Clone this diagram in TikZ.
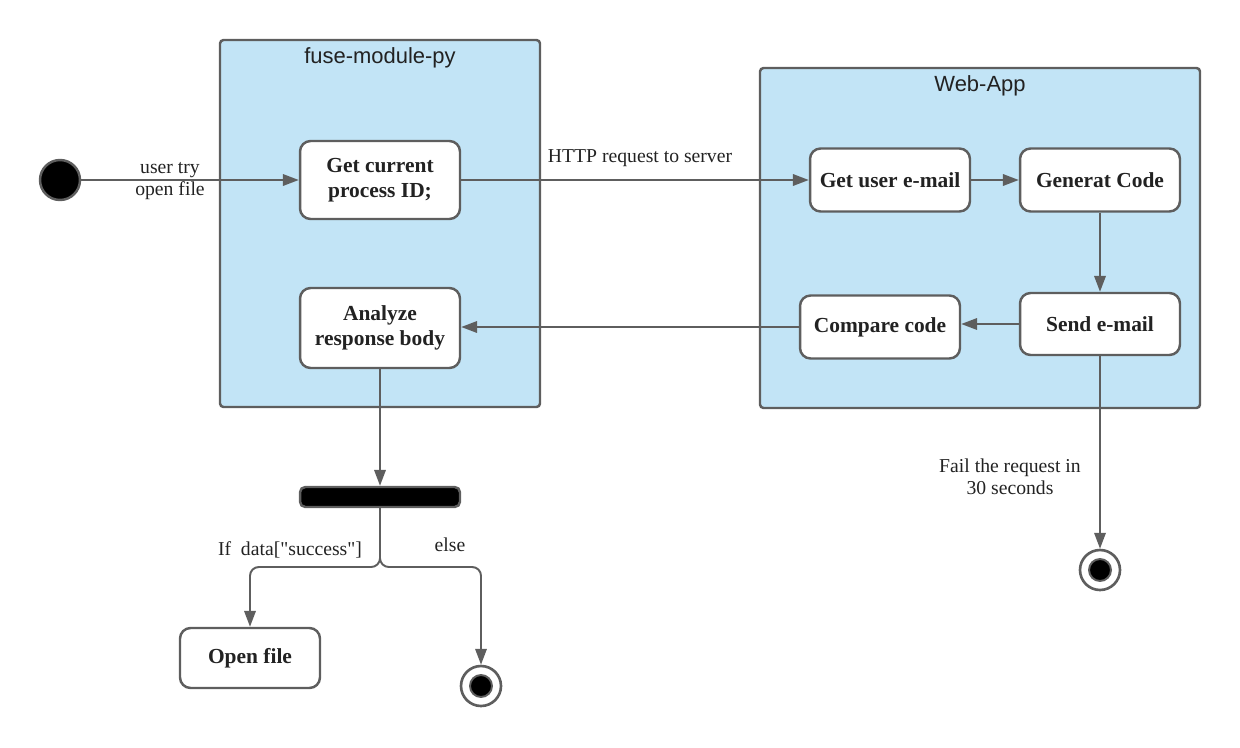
\documentclass[tikz,border=0pt]{standalone}
\usepackage{fontspec}
\setmainfont{Liberation Serif}
\newfontfamily\lanefont{Liberation Sans}
\newfontfamily\plainserif[Ligatures=ResetAll]{Liberation Serif}
\usetikzlibrary{arrows.meta}
\definecolor{lanebg}{HTML}{C2E4F6}
\definecolor{edgec}{HTML}{5E5E5E}
\definecolor{ink}{HTML}{222222}
\begin{document}
\begin{tikzpicture}[x=0.02cm,y=-0.02cm,
  lane/.style={draw=edgec,fill=lanebg,line width=1.4pt,rounded corners=2pt},
  lanetitle/.style={font=\lanefont\fontsize{12.5}{14}\selectfont,text=ink},
  act/.style={rectangle,rounded corners=6pt,draw=edgec,fill=white,line width=1.4pt,
    font=\bfseries\fontsize{12.2}{14}\selectfont,align=center,text=ink,
    minimum width=3.2cm,inner sep=2pt},
  startnode/.style={circle,draw=edgec,fill=black,line width=1.4pt,minimum size=0.8cm,inner sep=0pt},
  endnode/.style={circle,draw=edgec,fill=white,line width=1.5pt,minimum size=0.8cm,inner sep=0pt},
  bar/.style={rectangle,rounded corners=3pt,draw=edgec,fill=black,line width=1.4pt,
    minimum width=3.2cm,minimum height=0.4cm,inner sep=0pt},
  flow/.style={draw=edgec,line width=1.1pt,-{Triangle[length=9pt,width=6.5pt]}},
  lbl/.style={font=\fontsize{11.2}{12.5}\selectfont,text=ink,align=center}
]
\useasboundingbox (0,0) rectangle (1240,747);

% swimlanes
\draw[lane] (220,40) rectangle (540,407);
\node[lanetitle] (t1) at (380,58) {fuse-module-py};
\draw[lane] (760,68) rectangle (1200,408);
\node[lanetitle] (t2) at (980,86) {Web-App};

% nodes
\node[startnode] (init) at (60,180) {};
\node[act,minimum height=1.56cm] (getpid) at (380,180) {Get current\\process ID;};
\node[act,minimum height=1.26cm] (getmail) at (890,180) {Get user e-mail};
\node[act,minimum height=1.26cm] (gencode) at (1100,180) {Generat Code};
\node[act,minimum height=1.24cm] (send) at (1100,324) {Send e-mail};
\node[act,minimum height=1.26cm] (compare) at (880,327) {Compare code};
\node[act,minimum height=1.6cm] (analyze) at (380,328) {Analyze\\response body};
\node[bar] (fork) at (380,497) {};
\node[act,minimum width=2.8cm,minimum height=1.2cm] (open) at (250,658) {Open file};
\node[endnode] (end1) at (481,686) {};
\fill[black,draw=edgec,line width=1.1pt] (end1.center) circle[radius=11];
\node[endnode] (end2) at (1100,570) {};
\fill[black,draw=edgec,line width=1.1pt] (end2.center) circle[radius=11];

% connectors
\draw[flow] (init) -- (getpid);
\node[lbl] (l1) at (170,181) {user try\\open file};
\draw[flow] (getpid) -- (getmail);
\node[lbl] (l2) at (640,158) {HTTP request to server};
\draw[flow] (getmail) -- (gencode);
\draw[flow] (gencode) -- (send);
\draw[flow] (send.west) -- (compare.east |- send.west);
\draw[flow] (compare) -- (analyze.east |- compare.west);
\draw[flow] (analyze) -- (fork);
\coordinate (split) at (380,567);
\draw[flow,rounded corners=5pt] (fork.south) -- (split) -| (open.north);
\draw[flow,rounded corners=5pt] (fork.south) -- (split) -| (end1.north);
\node[lbl] (l3) at (290,550) {\plainserif If\ \ data["success"]};
\node[lbl] (l4) at (450,545) {else};
\draw[flow] (send) -- (end2);
\node[lbl] (l5) at (1010,477) {Fail the request in\\30 seconds};
\end{tikzpicture}
\end{document}
